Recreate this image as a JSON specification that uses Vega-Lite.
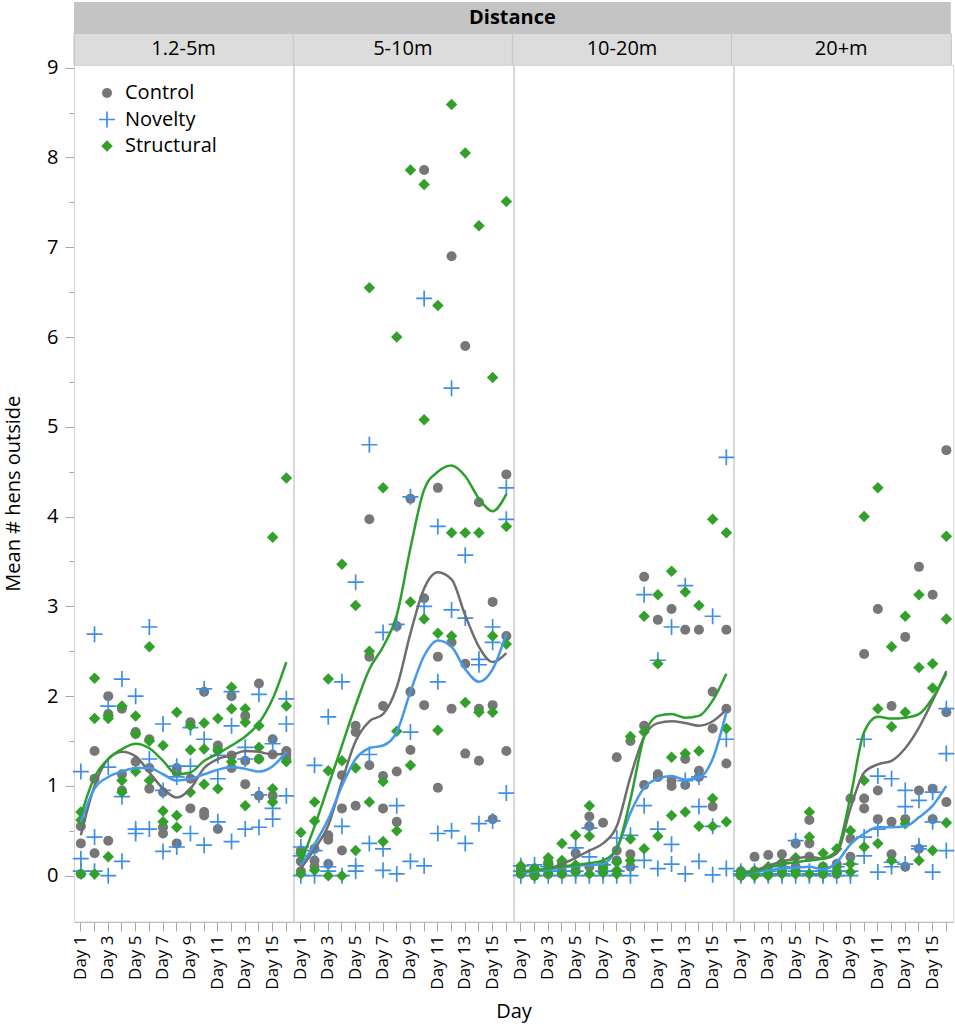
{
  "$schema": "https://vega.github.io/schema/vega-lite/v6.json",
  "padding": {"left": 3, "top": 2, "right": 3, "bottom": 1},
  "background": "white",
  "config": {
    "font": "Open Sans",
    "view": {"stroke": "#d6d6d6"},
    "axis": {"labelFont": "Open Sans", "titleFont": "Open Sans", "labelColor": "#000000", "titleColor": "#000000", "titleFontWeight": "normal", "domainColor": "#a6a6a6", "tickColor": "#a6a6a6", "grid": false}
  },
  "datasets": {
    "obs": [
      {"dist": "1.2-5m", "day": 1, "g": "Control", "v": [0.36, 0.55, 0.02], "s": 0.45},
      {"dist": "1.2-5m", "day": 2, "g": "Control", "v": [1.39, 0.25, 1.08], "s": 1.0},
      {"dist": "1.2-5m", "day": 3, "g": "Control", "v": [2.0, 0.39, 1.8], "s": 1.3},
      {"dist": "1.2-5m", "day": 4, "g": "Control", "v": [1.13, 1.86, 0.95], "s": 1.38},
      {"dist": "1.2-5m", "day": 5, "g": "Control", "v": [1.58, 1.27, 1.6], "s": 1.33},
      {"dist": "1.2-5m", "day": 6, "g": "Control", "v": [0.97, 1.52, 1.2], "s": 1.15},
      {"dist": "1.2-5m", "day": 7, "g": "Control", "v": [0.93, 0.47, 0.54], "s": 0.97},
      {"dist": "1.2-5m", "day": 8, "g": "Control", "v": [1.2, 0.36, 1.15], "s": 0.87},
      {"dist": "1.2-5m", "day": 9, "g": "Control", "v": [1.08, 1.71, 0.75], "s": 0.97},
      {"dist": "1.2-5m", "day": 10, "g": "Control", "v": [2.05, 0.71, 0.67], "s": 1.2},
      {"dist": "1.2-5m", "day": 11, "g": "Control", "v": [0.52, 1.45, 1.4], "s": 1.3},
      {"dist": "1.2-5m", "day": 12, "g": "Control", "v": [1.34, 2.0, 1.2], "s": 1.34},
      {"dist": "1.2-5m", "day": 13, "g": "Control", "v": [1.02, 1.78, 1.28], "s": 1.39},
      {"dist": "1.2-5m", "day": 14, "g": "Control", "v": [2.14, 0.89, 1.3], "s": 1.38},
      {"dist": "1.2-5m", "day": 15, "g": "Control", "v": [0.89, 1.52, 1.35], "s": 1.35},
      {"dist": "1.2-5m", "day": 16, "g": "Control", "v": [1.39, 1.3, 1.35], "s": 1.36},
      {"dist": "1.2-5m", "day": 1, "g": "Novelty", "v": [1.16, 0.19, 0.05], "s": 0.6},
      {"dist": "1.2-5m", "day": 2, "g": "Novelty", "v": [2.69, 0.43, 0.05], "s": 0.97},
      {"dist": "1.2-5m", "day": 3, "g": "Novelty", "v": [1.89, 0.0, 1.21], "s": 1.1},
      {"dist": "1.2-5m", "day": 4, "g": "Novelty", "v": [2.19, 0.16, 0.88], "s": 1.16},
      {"dist": "1.2-5m", "day": 5, "g": "Novelty", "v": [0.52, 2.0, 0.47], "s": 1.2},
      {"dist": "1.2-5m", "day": 6, "g": "Novelty", "v": [2.77, 0.52, 1.3], "s": 1.2},
      {"dist": "1.2-5m", "day": 7, "g": "Novelty", "v": [1.69, 0.27, 0.95], "s": 1.13},
      {"dist": "1.2-5m", "day": 8, "g": "Novelty", "v": [0.32, 1.22, 1.1], "s": 1.06},
      {"dist": "1.2-5m", "day": 9, "g": "Novelty", "v": [1.65, 0.47, 1.22], "s": 1.08},
      {"dist": "1.2-5m", "day": 10, "g": "Novelty", "v": [0.34, 2.08, 1.52], "s": 1.13},
      {"dist": "1.2-5m", "day": 11, "g": "Novelty", "v": [1.08, 1.34, 0.6], "s": 1.18},
      {"dist": "1.2-5m", "day": 12, "g": "Novelty", "v": [2.05, 0.38, 1.67], "s": 1.21},
      {"dist": "1.2-5m", "day": 13, "g": "Novelty", "v": [0.52, 1.43, 1.3], "s": 1.19},
      {"dist": "1.2-5m", "day": 14, "g": "Novelty", "v": [0.54, 2.02, 0.9], "s": 1.16},
      {"dist": "1.2-5m", "day": 15, "g": "Novelty", "v": [0.63, 1.47, 0.75], "s": 1.22},
      {"dist": "1.2-5m", "day": 16, "g": "Novelty", "v": [1.97, 0.89, 1.69], "s": 1.38},
      {"dist": "1.2-5m", "day": 1, "g": "Structural", "v": [0.71, 0.02, 0.62], "s": 0.67},
      {"dist": "1.2-5m", "day": 2, "g": "Structural", "v": [2.2, 1.75, 0.02], "s": 1.1},
      {"dist": "1.2-5m", "day": 3, "g": "Structural", "v": [1.78, 0.21, 1.75], "s": 1.3},
      {"dist": "1.2-5m", "day": 4, "g": "Structural", "v": [1.06, 1.89, 0.93], "s": 1.41},
      {"dist": "1.2-5m", "day": 5, "g": "Structural", "v": [1.78, 1.16, 1.58], "s": 1.47},
      {"dist": "1.2-5m", "day": 6, "g": "Structural", "v": [1.06, 2.55, 1.5], "s": 1.42},
      {"dist": "1.2-5m", "day": 7, "g": "Structural", "v": [0.72, 1.45, 0.6], "s": 1.28},
      {"dist": "1.2-5m", "day": 8, "g": "Structural", "v": [0.67, 1.82, 0.54], "s": 1.13},
      {"dist": "1.2-5m", "day": 9, "g": "Structural", "v": [0.93, 1.67, 1.4], "s": 1.15},
      {"dist": "1.2-5m", "day": 10, "g": "Structural", "v": [1.02, 1.41, 1.7], "s": 1.28},
      {"dist": "1.2-5m", "day": 11, "g": "Structural", "v": [1.75, 0.97, 1.4], "s": 1.36},
      {"dist": "1.2-5m", "day": 12, "g": "Structural", "v": [1.27, 2.1, 1.86], "s": 1.45},
      {"dist": "1.2-5m", "day": 13, "g": "Structural", "v": [1.71, 0.78, 1.86], "s": 1.55},
      {"dist": "1.2-5m", "day": 14, "g": "Structural", "v": [1.43, 1.67, 1.3], "s": 1.7},
      {"dist": "1.2-5m", "day": 15, "g": "Structural", "v": [0.82, 3.77, 0.97], "s": 1.97},
      {"dist": "1.2-5m", "day": 16, "g": "Structural", "v": [1.27, 4.43, 1.89], "s": 2.38},

      {"dist": "5-10m", "day": 1, "g": "Control", "v": [0.16, 0.05, 0.28], "s": 0.08},
      {"dist": "5-10m", "day": 2, "g": "Control", "v": [0.17, 0.3, 0.1], "s": 0.3},
      {"dist": "5-10m", "day": 3, "g": "Control", "v": [0.45, 0.13, 0.4], "s": 0.56},
      {"dist": "5-10m", "day": 4, "g": "Control", "v": [0.75, 0.28, 1.12], "s": 1.05},
      {"dist": "5-10m", "day": 5, "g": "Control", "v": [1.6, 0.78, 1.67], "s": 1.5},
      {"dist": "5-10m", "day": 6, "g": "Control", "v": [1.23, 3.97, 2.44], "s": 1.72},
      {"dist": "5-10m", "day": 7, "g": "Control", "v": [1.11, 1.89, 0.75], "s": 1.8},
      {"dist": "5-10m", "day": 8, "g": "Control", "v": [0.6, 1.16, 2.78], "s": 2.1},
      {"dist": "5-10m", "day": 9, "g": "Control", "v": [1.4, 4.2, 2.05], "s": 2.7},
      {"dist": "5-10m", "day": 10, "g": "Control", "v": [3.09, 7.86, 1.9], "s": 3.2},
      {"dist": "5-10m", "day": 11, "g": "Control", "v": [0.98, 2.44, 4.32], "s": 3.38},
      {"dist": "5-10m", "day": 12, "g": "Control", "v": [1.86, 6.9, 2.6], "s": 3.3},
      {"dist": "5-10m", "day": 13, "g": "Control", "v": [2.36, 1.36, 5.9], "s": 2.9},
      {"dist": "5-10m", "day": 14, "g": "Control", "v": [1.28, 4.16, 1.86], "s": 2.55},
      {"dist": "5-10m", "day": 15, "g": "Control", "v": [0.63, 1.9, 3.05], "s": 2.38},
      {"dist": "5-10m", "day": 16, "g": "Control", "v": [4.47, 1.39, 2.67], "s": 2.48},
      {"dist": "5-10m", "day": 1, "g": "Novelty", "v": [0.0, 0.22, 0.32], "s": 0.12},
      {"dist": "5-10m", "day": 2, "g": "Novelty", "v": [1.23, 0.0, 0.28], "s": 0.35},
      {"dist": "5-10m", "day": 3, "g": "Novelty", "v": [0.05, 1.77, 0.1], "s": 0.63},
      {"dist": "5-10m", "day": 4, "g": "Novelty", "v": [2.16, 0.0, 0.55], "s": 1.0},
      {"dist": "5-10m", "day": 5, "g": "Novelty", "v": [0.05, 3.27, 0.11], "s": 1.3},
      {"dist": "5-10m", "day": 6, "g": "Novelty", "v": [0.36, 4.8, 1.35], "s": 1.42},
      {"dist": "5-10m", "day": 7, "g": "Novelty", "v": [0.06, 2.71, 0.3], "s": 1.45},
      {"dist": "5-10m", "day": 8, "g": "Novelty", "v": [0.78, 0.02, 2.8], "s": 1.6},
      {"dist": "5-10m", "day": 9, "g": "Novelty", "v": [0.16, 1.6, 4.22], "s": 2.05},
      {"dist": "5-10m", "day": 10, "g": "Novelty", "v": [0.11, 6.43, 3.0], "s": 2.45},
      {"dist": "5-10m", "day": 11, "g": "Novelty", "v": [2.16, 3.89, 0.47], "s": 2.62},
      {"dist": "5-10m", "day": 12, "g": "Novelty", "v": [0.5, 5.43, 2.96], "s": 2.55},
      {"dist": "5-10m", "day": 13, "g": "Novelty", "v": [3.57, 0.36, 2.87], "s": 2.3},
      {"dist": "5-10m", "day": 14, "g": "Novelty", "v": [2.35, 0.58, 2.41], "s": 2.16},
      {"dist": "5-10m", "day": 15, "g": "Novelty", "v": [2.77, 0.61, 2.6], "s": 2.3},
      {"dist": "5-10m", "day": 16, "g": "Novelty", "v": [0.92, 4.32, 3.97], "s": 2.7},
      {"dist": "5-10m", "day": 1, "g": "Structural", "v": [0.48, 0.02, 0.25], "s": 0.15},
      {"dist": "5-10m", "day": 2, "g": "Structural", "v": [0.61, 0.06, 0.82], "s": 0.55},
      {"dist": "5-10m", "day": 3, "g": "Structural", "v": [1.17, 2.19, 0.0], "s": 1.0},
      {"dist": "5-10m", "day": 4, "g": "Structural", "v": [0.0, 3.47, 1.28], "s": 1.45},
      {"dist": "5-10m", "day": 5, "g": "Structural", "v": [0.28, 3.01, 1.2], "s": 1.9},
      {"dist": "5-10m", "day": 6, "g": "Structural", "v": [2.5, 6.55, 0.82], "s": 2.3},
      {"dist": "5-10m", "day": 7, "g": "Structural", "v": [0.38, 4.32, 1.05], "s": 2.55},
      {"dist": "5-10m", "day": 8, "g": "Structural", "v": [6.0, 0.5, 1.61], "s": 2.9},
      {"dist": "5-10m", "day": 9, "g": "Structural", "v": [1.23, 7.86, 3.05], "s": 3.65},
      {"dist": "5-10m", "day": 10, "g": "Structural", "v": [5.08, 2.86, 7.7], "s": 4.3},
      {"dist": "5-10m", "day": 11, "g": "Structural", "v": [1.62, 6.35, 2.7], "s": 4.5},
      {"dist": "5-10m", "day": 12, "g": "Structural", "v": [3.82, 2.67, 8.59], "s": 4.57},
      {"dist": "5-10m", "day": 13, "g": "Structural", "v": [8.05, 1.93, 3.82], "s": 4.45},
      {"dist": "5-10m", "day": 14, "g": "Structural", "v": [1.82, 7.24, 3.82], "s": 4.2},
      {"dist": "5-10m", "day": 15, "g": "Structural", "v": [1.82, 5.55, 2.67], "s": 4.06},
      {"dist": "5-10m", "day": 16, "g": "Structural", "v": [2.58, 3.89, 7.51], "s": 4.25},

      {"dist": "10-20m", "day": 1, "g": "Control", "v": [0.02, 0.08, 0.05], "s": 0.03},
      {"dist": "10-20m", "day": 2, "g": "Control", "v": [0.0, 0.02, 0.08], "s": 0.05},
      {"dist": "10-20m", "day": 3, "g": "Control", "v": [0.1, 0.15, 0.02], "s": 0.08},
      {"dist": "10-20m", "day": 4, "g": "Control", "v": [0.05, 0.13, 0.02], "s": 0.13},
      {"dist": "10-20m", "day": 5, "g": "Control", "v": [0.1, 0.25, 0.05], "s": 0.2},
      {"dist": "10-20m", "day": 6, "g": "Control", "v": [0.66, 0.1, 0.55], "s": 0.28},
      {"dist": "10-20m", "day": 7, "g": "Control", "v": [0.05, 0.59, 0.1], "s": 0.36},
      {"dist": "10-20m", "day": 8, "g": "Control", "v": [0.17, 1.32, 0.28], "s": 0.55},
      {"dist": "10-20m", "day": 9, "g": "Control", "v": [0.24, 1.5, 0.1], "s": 1.1},
      {"dist": "10-20m", "day": 10, "g": "Control", "v": [1.01, 3.33, 1.67], "s": 1.55},
      {"dist": "10-20m", "day": 11, "g": "Control", "v": [2.85, 1.1, 1.13], "s": 1.7},
      {"dist": "10-20m", "day": 12, "g": "Control", "v": [1.06, 2.97, 1.0], "s": 1.72},
      {"dist": "10-20m", "day": 13, "g": "Control", "v": [1.3, 2.74, 1.01], "s": 1.7},
      {"dist": "10-20m", "day": 14, "g": "Control", "v": [1.17, 1.1, 2.74], "s": 1.67},
      {"dist": "10-20m", "day": 15, "g": "Control", "v": [0.77, 2.05, 1.64], "s": 1.72},
      {"dist": "10-20m", "day": 16, "g": "Control", "v": [1.25, 2.74, 1.86], "s": 1.85},
      {"dist": "10-20m", "day": 1, "g": "Novelty", "v": [0.11, 0.0, 0.05], "s": 0.04},
      {"dist": "10-20m", "day": 2, "g": "Novelty", "v": [0.05, 0.12, 0.0], "s": 0.05},
      {"dist": "10-20m", "day": 3, "g": "Novelty", "v": [0.0, 0.05, 0.1], "s": 0.07},
      {"dist": "10-20m", "day": 4, "g": "Novelty", "v": [0.1, 0.0, 0.05], "s": 0.09},
      {"dist": "10-20m", "day": 5, "g": "Novelty", "v": [0.05, 0.31, 0.0], "s": 0.11},
      {"dist": "10-20m", "day": 6, "g": "Novelty", "v": [0.21, 0.53, 0.0], "s": 0.12},
      {"dist": "10-20m", "day": 7, "g": "Novelty", "v": [0.05, 0.0, 0.12], "s": 0.13},
      {"dist": "10-20m", "day": 8, "g": "Novelty", "v": [0.0, 0.42, 0.05], "s": 0.3},
      {"dist": "10-20m", "day": 9, "g": "Novelty", "v": [0.45, 0.0, 0.1], "s": 0.7},
      {"dist": "10-20m", "day": 10, "g": "Novelty", "v": [0.17, 0.78, 3.13], "s": 0.98},
      {"dist": "10-20m", "day": 11, "g": "Novelty", "v": [0.08, 2.4, 0.52], "s": 1.08},
      {"dist": "10-20m", "day": 12, "g": "Novelty", "v": [0.13, 0.35, 2.77], "s": 1.11},
      {"dist": "10-20m", "day": 13, "g": "Novelty", "v": [1.06, 0.02, 3.23], "s": 1.07},
      {"dist": "10-20m", "day": 14, "g": "Novelty", "v": [0.16, 0.77, 1.1], "s": 1.09},
      {"dist": "10-20m", "day": 15, "g": "Novelty", "v": [0.55, 2.89, 0.01], "s": 1.3},
      {"dist": "10-20m", "day": 16, "g": "Novelty", "v": [0.08, 4.66, 1.52], "s": 1.82},
      {"dist": "10-20m", "day": 1, "g": "Structural", "v": [0.02, 0.11, 0.05], "s": 0.05},
      {"dist": "10-20m", "day": 2, "g": "Structural", "v": [0.08, 0.02, 0.0], "s": 0.06},
      {"dist": "10-20m", "day": 3, "g": "Structural", "v": [0.2, 0.02, 0.13], "s": 0.08},
      {"dist": "10-20m", "day": 4, "g": "Structural", "v": [0.02, 0.36, 0.17], "s": 0.1},
      {"dist": "10-20m", "day": 5, "g": "Structural", "v": [0.45, 0.12, 0.04], "s": 0.12},
      {"dist": "10-20m", "day": 6, "g": "Structural", "v": [0.02, 0.78, 0.44], "s": 0.14},
      {"dist": "10-20m", "day": 7, "g": "Structural", "v": [0.13, 0.08, 0.03], "s": 0.17},
      {"dist": "10-20m", "day": 8, "g": "Structural", "v": [0.06, 0.02, 0.15], "s": 0.3},
      {"dist": "10-20m", "day": 9, "g": "Structural", "v": [0.17, 1.55, 0.41], "s": 0.85},
      {"dist": "10-20m", "day": 10, "g": "Structural", "v": [1.6, 2.89, 0.3], "s": 1.55},
      {"dist": "10-20m", "day": 11, "g": "Structural", "v": [2.36, 0.44, 3.13], "s": 1.78},
      {"dist": "10-20m", "day": 12, "g": "Structural", "v": [0.67, 3.39, 1.32], "s": 1.8},
      {"dist": "10-20m", "day": 13, "g": "Structural", "v": [1.36, 3.16, 0.71], "s": 1.76},
      {"dist": "10-20m", "day": 14, "g": "Structural", "v": [0.55, 3.01, 1.39], "s": 1.78},
      {"dist": "10-20m", "day": 15, "g": "Structural", "v": [3.97, 0.86, 0.55], "s": 1.95},
      {"dist": "10-20m", "day": 16, "g": "Structural", "v": [1.64, 3.82, 0.6], "s": 2.25},

      {"dist": "20+m", "day": 1, "g": "Control", "v": [0.02, 0.05, 0.0], "s": 0.02},
      {"dist": "20+m", "day": 2, "g": "Control", "v": [0.21, 0.02, 0.05], "s": 0.06},
      {"dist": "20+m", "day": 3, "g": "Control", "v": [0.05, 0.23, 0.02], "s": 0.11},
      {"dist": "20+m", "day": 4, "g": "Control", "v": [0.13, 0.24, 0.05], "s": 0.16},
      {"dist": "20+m", "day": 5, "g": "Control", "v": [0.1, 0.36, 0.05], "s": 0.19},
      {"dist": "20+m", "day": 6, "g": "Control", "v": [0.36, 0.62, 0.21], "s": 0.21},
      {"dist": "20+m", "day": 7, "g": "Control", "v": [0.05, 0.1, 0.02], "s": 0.19},
      {"dist": "20+m", "day": 8, "g": "Control", "v": [0.02, 0.13, 0.05], "s": 0.25},
      {"dist": "20+m", "day": 9, "g": "Control", "v": [0.41, 0.86, 0.21], "s": 0.75},
      {"dist": "20+m", "day": 10, "g": "Control", "v": [0.86, 2.47, 0.75], "s": 1.15},
      {"dist": "20+m", "day": 11, "g": "Control", "v": [0.63, 2.97, 0.95], "s": 1.24},
      {"dist": "20+m", "day": 12, "g": "Control", "v": [0.24, 1.89, 0.6], "s": 1.28},
      {"dist": "20+m", "day": 13, "g": "Control", "v": [0.63, 2.66, 0.1], "s": 1.42},
      {"dist": "20+m", "day": 14, "g": "Control", "v": [0.95, 3.44, 0.3], "s": 1.65},
      {"dist": "20+m", "day": 15, "g": "Control", "v": [3.13, 0.63, 0.97], "s": 1.95},
      {"dist": "20+m", "day": 16, "g": "Control", "v": [0.82, 4.74, 1.82], "s": 2.28},
      {"dist": "20+m", "day": 1, "g": "Novelty", "v": [0.05, 0.0, 0.02], "s": 0.02},
      {"dist": "20+m", "day": 2, "g": "Novelty", "v": [0.02, 0.05, 0.0], "s": 0.04},
      {"dist": "20+m", "day": 3, "g": "Novelty", "v": [0.0, 0.02, 0.05], "s": 0.06},
      {"dist": "20+m", "day": 4, "g": "Novelty", "v": [0.1, 0.0, 0.02], "s": 0.08},
      {"dist": "20+m", "day": 5, "g": "Novelty", "v": [0.0, 0.39, 0.05], "s": 0.09},
      {"dist": "20+m", "day": 6, "g": "Novelty", "v": [0.05, 0.0, 0.02], "s": 0.1},
      {"dist": "20+m", "day": 7, "g": "Novelty", "v": [0.02, 0.0, 0.05], "s": 0.07},
      {"dist": "20+m", "day": 8, "g": "Novelty", "v": [0.05, 0.1, 0.0], "s": 0.15},
      {"dist": "20+m", "day": 9, "g": "Novelty", "v": [0.0, 0.13, 0.05], "s": 0.35},
      {"dist": "20+m", "day": 10, "g": "Novelty", "v": [0.22, 1.52, 0.43], "s": 0.47},
      {"dist": "20+m", "day": 11, "g": "Novelty", "v": [0.04, 1.11, 0.52], "s": 0.54},
      {"dist": "20+m", "day": 12, "g": "Novelty", "v": [1.08, 0.1, 0.15], "s": 0.54},
      {"dist": "20+m", "day": 13, "g": "Novelty", "v": [0.77, 0.95, 0.13], "s": 0.55},
      {"dist": "20+m", "day": 14, "g": "Novelty", "v": [0.33, 0.84, 0.3], "s": 0.65},
      {"dist": "20+m", "day": 15, "g": "Novelty", "v": [0.6, 0.93, 0.04], "s": 0.78},
      {"dist": "20+m", "day": 16, "g": "Novelty", "v": [1.36, 0.28, 1.86], "s": 1.0},
      {"dist": "20+m", "day": 1, "g": "Structural", "v": [0.02, 0.0, 0.05], "s": 0.02},
      {"dist": "20+m", "day": 2, "g": "Structural", "v": [0.05, 0.02, 0.0], "s": 0.05},
      {"dist": "20+m", "day": 3, "g": "Structural", "v": [0.1, 0.02, 0.0], "s": 0.09},
      {"dist": "20+m", "day": 4, "g": "Structural", "v": [0.02, 0.05, 0.15], "s": 0.13},
      {"dist": "20+m", "day": 5, "g": "Structural", "v": [0.2, 0.02, 0.05], "s": 0.15},
      {"dist": "20+m", "day": 6, "g": "Structural", "v": [0.43, 0.02, 0.71], "s": 0.17},
      {"dist": "20+m", "day": 7, "g": "Structural", "v": [0.25, 0.1, 0.02], "s": 0.19},
      {"dist": "20+m", "day": 8, "g": "Structural", "v": [0.03, 0.3, 0.1], "s": 0.28},
      {"dist": "20+m", "day": 9, "g": "Structural", "v": [0.13, 0.5, 0.04], "s": 0.88},
      {"dist": "20+m", "day": 10, "g": "Structural", "v": [1.06, 0.32, 4.0], "s": 1.6},
      {"dist": "20+m", "day": 11, "g": "Structural", "v": [4.32, 0.36, 1.86], "s": 1.77},
      {"dist": "20+m", "day": 12, "g": "Structural", "v": [1.66, 2.55, 0.17], "s": 1.75},
      {"dist": "20+m", "day": 13, "g": "Structural", "v": [2.89, 0.58, 1.82], "s": 1.76},
      {"dist": "20+m", "day": 14, "g": "Structural", "v": [2.32, 0.17, 3.13], "s": 1.8},
      {"dist": "20+m", "day": 15, "g": "Structural", "v": [2.09, 0.28, 2.36], "s": 1.98},
      {"dist": "20+m", "day": 16, "g": "Structural", "v": [3.78, 0.59, 2.86], "s": 2.25}
    ]
  },
  "spacing": 0,
  "bounds": "flush",
  "vconcat": [
    {
      "data": {"values": [{"h": "Distance"}]},
      "width": 876.8,
      "height": 31,
      "view": {"fill": "#c4c4c4", "stroke": null},
      "mark": {"type": "text", "fontSize": 20, "fontWeight": "bold", "font": "Open Sans", "color": "#000000"},
      "encoding": {
        "x": {"field": "h", "type": "nominal", "axis": null, "scale": {"type": "band", "paddingInner": 0, "paddingOuter": 0}},
        "y": {"field": "h", "type": "nominal", "axis": null, "scale": {"type": "band", "paddingInner": 0, "paddingOuter": 0}},
        "text": {"field": "h"}
      }
    },
    {
      "data": {"values": [
        {"dist": "1.2-5m", "band": "sub"},
        {"dist": "5-10m", "band": "sub"},
        {"dist": "10-20m", "band": "sub"},
        {"dist": "20+m", "band": "sub"}
      ]},
      "width": 876.8,
      "height": 32,
      "view": {"fill": "#dcdcdc", "stroke": "#c4c4c4"},
      "layer": [
        {
          "mark": {"type": "rule", "color": "#c4c4c4", "strokeWidth": 1},
          "encoding": {
            "x": {"field": "dist", "type": "nominal", "sort": ["1.2-5m", "5-10m", "10-20m", "20+m"], "bandPosition": 0, "axis": null, "scale": {"type": "band", "paddingInner": 0, "paddingOuter": 0}}
          }
        },
        {
          "mark": {"type": "text", "fontSize": 20, "font": "Open Sans", "color": "#000000"},
          "encoding": {
            "x": {"field": "dist", "type": "nominal", "sort": ["1.2-5m", "5-10m", "10-20m", "20+m"], "axis": null, "scale": {"type": "band", "paddingInner": 0, "paddingOuter": 0}},
            "y": {"field": "band", "type": "nominal", "axis": null, "scale": {"type": "band", "paddingInner": 0, "paddingOuter": 0}},
            "text": {"field": "dist"}
          }
        }
      ]
    },
    {
      "data": {"name": "obs"},
      "transform": [{"flatten": ["v"], "index": "rep"}],
      "facet": {"column": {"field": "dist", "type": "nominal", "sort": ["1.2-5m", "5-10m", "10-20m", "20+m"],
        "header": {"title": "Day", "titleOrient": "bottom", "labels": false, "labelOrient": "bottom", "labelPadding": 0, "titleFont": "Open Sans", "titleFontSize": 20, "titleFontWeight": "normal", "titleColor": "#000000", "titlePadding": 2}}},
      "spacing": 0,
      "bounds": "flush",
      "spec": {
        "width": 219.2,
        "height": 856.5,
        "layer": [
          {
            "mark": {"type": "point", "filled": true, "opacity": 1, "size": 100},
            "encoding": {
              "x": {
                "field": "day", "type": "ordinal",
                "scale": {"paddingInner": 0, "paddingOuter": 0},
                "axis": {
                  "title": null,
                  "labelAngle": -90, "labelFontSize": 17, "labelPadding": 4, "tickSize": 9, "labelOverlap": false,
                  "labelExpr": "datum.value % 2 == 1 ? 'Day ' + datum.value : ''"
                }
              },
              "xOffset": {"field": "rep", "type": "ordinal", "scale": {"paddingOuter": 0.2}},
              "y": {
                "field": "v", "type": "quantitative",
                "scale": {"domain": [-0.51, 9.03], "nice": false, "zero": false},
                "axis": {
                  "title": "Mean # hens outside", "titleFontSize": 20, "titlePadding": 23,
                  "values": [0, 0.5, 1, 1.5, 2, 2.5, 3, 3.5, 4, 4.5, 5, 5.5, 6, 6.5, 7, 7.5, 8, 8.5, 9],
                  "labelExpr": "datum.value % 1 == 0 ? datum.value : ''",
                  "labelFontSize": 20, "labelPadding": 7,
                  "tickSize": {"condition": {"test": "datum.value % 1 != 0", "value": 5}, "value": 9}
                }
              },
              "color": {
                "field": "g", "type": "nominal",
                "scale": {"domain": ["Control", "Novelty", "Structural"], "range": ["#777777", "#3d8fe6", "#33a02c"]},
                "legend": {"title": null, "orient": "none", "legendX": 23, "legendY": 81, "labelFontSize": 20, "labelFont": "Open Sans", "symbolSize": 100, "rowPadding": 6.5, "labelOffset": 8, "padding": 0, "symbolStrokeWidth": 0}
              },
              "shape": {
                "field": "g", "type": "nominal",
                "scale": {"domain": ["Control", "Novelty", "Structural"], "range": ["circle", "M-1.6,-0.17H-0.17V-1.6H0.17V-0.17H1.6V0.17H0.17V1.6H-0.17V0.17H-1.6Z", "M0,-1.15L1.15,0L0,1.15L-1.15,0Z"]},
                "legend": {"title": null, "orient": "none", "legendX": 23, "legendY": 81, "labelFontSize": 20, "labelFont": "Open Sans", "symbolSize": 100, "rowPadding": 6.5, "labelOffset": 8, "padding": 0, "symbolStrokeWidth": 0}
              }
            }
          },
          {
            "mark": {"type": "line", "interpolate": "monotone", "strokeWidth": 2.5},
            "encoding": {
              "x": {"field": "day", "type": "ordinal", "title": null},
              "y": {"field": "s", "type": "quantitative", "aggregate": "mean", "title": "Mean # hens outside"},
              "stroke": {
                "field": "g", "type": "nominal", "legend": null,
                "scale": {"domain": ["Control", "Novelty", "Structural"], "range": ["#6e6e6e", "#4499ee", "#2ca02c"]}
              }
            }
          }
        ]
      }
    }
  ]
}
